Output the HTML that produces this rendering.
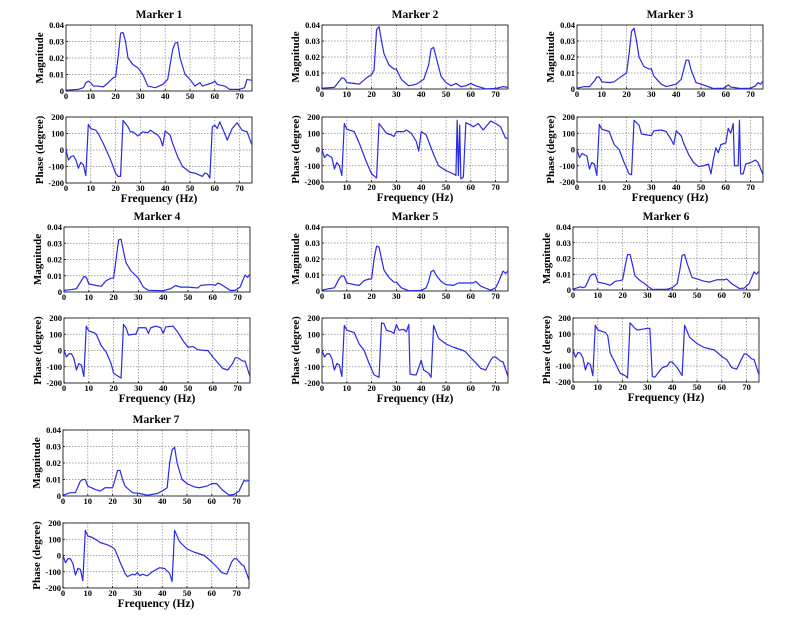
<!DOCTYPE html>
<html><head><meta charset="utf-8"><style>
html,body{margin:0;padding:0;background:#fff;}
svg{display:block;}
svg text{font-family:"Liberation Serif","Times New Roman",serif;font-weight:bold;}
</style></head><body>
<svg id="chart" width="800" height="618" viewBox="0 0 800 618" font-family="Liberation Serif, serif" font-weight="bold"></svg>
<script>
const freqTicks=[0,10,20,30,40,50,60,70];
const magTicks=[0,0.01,0.02,0.03,0.04];
const magTickLabels=["0","0.01","0.02","0.03","0.04"];
const phaseTicks=[-200,-100,0,100,200];
const phaseTickLabels=["-200","-100","0","100","200"];
const markerNames=["Marker 1","Marker 2","Marker 3","Marker 4","Marker 5","Marker 6","Marker 7"];

const mag1=[[0,0.0005],[5,0.001],[7,0.002],[8,0.005],[9,0.006],[10,0.005],[11,0.003],[13,0.003],[15,0.0025],[17,0.005],[19,0.008],[20,0.0085],[21,0.02],[22,0.035],[23,0.0355],[24,0.03],[25,0.02],[27,0.016],[29,0.014],[31,0.01],[33,0.003],[36,0.002],[39,0.004],[41,0.007],[43,0.025],[44,0.029],[45,0.0295],[46,0.02],[48,0.01],[50,0.007],[52,0.003],[54,0.005],[55,0.003],[57,0.004],[59,0.005],[60,0.006],[61,0.004],[64,0.003],[66,0.001],[70,0.001],[72,0.002],[73,0.007],[75,0.0065]];
const phase1=[[0,0],[1,-60],[2,-40],[3,-35],[4,-60],[5,-110],[6,-75],[7,-90],[8,-155],[9,155],[10,130],[12,120],[13,100],[15,40],[18,-60],[20,-140],[21,-160],[22,-160],[23,180],[25,140],[26,110],[27,110],[29,85],[31,110],[33,105],[34,120],[37,90],[38,70],[39,25],[40,115],[42,90],[43,40],[45,-40],[47,-100],[50,-135],[52,-140],[55,-160],[56,-140],[57,-145],[58,-170],[59,140],[60,150],[61,130],[62,170],[64,100],[65,60],[67,130],[69,165],[71,120],[73,110],[75,30]];
const mag2=[[0,0.0005],[5,0.001],[7,0.005],[8,0.007],[9,0.0065],[10,0.004],[13,0.0035],[15,0.003],[18,0.007],[20,0.009],[21,0.012],[22,0.037],[23,0.039],[24,0.03],[25,0.022],[27,0.015],[29,0.0125],[30,0.0125],[32,0.006],[35,0.002],[38,0.003],[41,0.006],[43,0.015],[44,0.025],[45,0.026],[46,0.02],[48,0.008],[50,0.004],[52,0.002],[54,0.0035],[56,0.0015],[58,0.002],[60,0.0035],[62,0.002],[66,0.0001],[70,0.0003],[73,0.0015],[75,0.001]];
const phase2=[[0,0],[1,-50],[2,-30],[4,-50],[5,-120],[6,-80],[7,-100],[8,-160],[9,160],[10,125],[13,110],[15,40],[18,-80],[20,-150],[22,-175],[23,160],[25,120],[26,100],[28,90],[29,80],[30,110],[33,110],[34,120],[36,100],[38,50],[39,-10],[40,110],[42,90],[43,50],[45,-30],[47,-100],[50,-130],[53,-150],[54,-160],[54.5,180],[55,-160],[55.5,150],[56,-180],[57,-170],[58,165],[60,150],[61,140],[63,160],[65,120],[68,175],[70,160],[72,140],[74,70],[75,70]];
const mag3=[[0,0.0005],[3,0.0015],[5,0.0015],[7,0.005],[8,0.0075],[9,0.0075],[10,0.0045],[13,0.004],[15,0.0045],[18,0.008],[20,0.01],[21,0.022],[22,0.036],[23,0.038],[24,0.03],[25,0.02],[27,0.014],[29,0.0125],[30,0.0125],[31,0.008],[34,0.003],[36,0.0015],[40,0.003],[42,0.006],[43,0.012],[44,0.018],[45,0.018],[46,0.012],[48,0.004],[50,0.003],[52,0.002],[55,0.0003],[59,0.0005],[61,0.0025],[62,0.0012],[66,0.0003],[70,0.0005],[72,0.002],[73,0.004],[74,0.003],[75,0.005]];
const phase3=[[0,0],[1,-50],[2,-25],[4,-40],[5,-120],[6,-80],[7,-90],[8,-160],[9,155],[10,125],[13,110],[15,30],[17,0],[19,-80],[21,-150],[22,-155],[23,180],[25,150],[26,95],[28,90],[30,85],[31,115],[34,120],[36,110],[38,60],[39,30],[40,115],[42,85],[43,40],[45,-30],[47,-80],[49,-105],[51,-100],[53,-90],[54,-150],[55,-60],[56,10],[57,-20],[58,30],[60,40],[61,130],[62,100],[63,160],[63.5,-100],[65,-100],[65.5,180],[66,-150],[67,-150],[68,-90],[70,-80],[72,-65],[73,-80],[75,-155]];
const mag4=[[0,0.001],[3,0.0015],[5,0.002],[7,0.007],[8,0.0095],[9,0.009],[10,0.005],[13,0.004],[15,0.0035],[17,0.007],[19,0.0085],[20,0.0085],[21,0.02],[22,0.032],[23,0.0325],[24,0.025],[25,0.018],[27,0.013],[29,0.01],[30,0.0085],[32,0.003],[34,0.001],[40,0.0008],[43,0.002],[45,0.004],[47,0.003],[50,0.003],[54,0.0025],[55,0.004],[58,0.0045],[60,0.0045],[61,0.004],[62,0.0055],[63,0.005],[65,0.003],[67,0.001],[69,0.001],[71,0.003],[73,0.0105],[74,0.009],[75,0.011]];
const phase4=[[0,0],[1,-40],[2,-20],[3,-20],[4,-50],[5,-120],[6,-80],[7,-90],[8,-160],[9,150],[10,120],[12,110],[13,100],[15,30],[17,-10],[19,-80],[20,-140],[22,-160],[23,-170],[24,160],[25,140],[26,95],[28,100],[29,100],[30,140],[33,140],[34,105],[35,140],[37,150],[38,145],[39,140],[40,105],[41,145],[44,150],[46,110],[48,60],[50,20],[52,25],[54,5],[57,0],[58,0],[60,-40],[62,-75],[64,-110],[66,-120],[68,-80],[69,-45],[70,-45],[72,-65],[73,-65],[75,-160]];
const mag5=[[0,0.0005],[3,0.0015],[5,0.002],[7,0.008],[8,0.0095],[9,0.009],[10,0.005],[13,0.004],[15,0.0035],[17,0.0065],[19,0.0075],[20,0.0075],[21,0.02],[22,0.028],[23,0.0275],[24,0.02],[25,0.013],[27,0.0085],[29,0.0055],[30,0.0055],[32,0.002],[35,0.0002],[40,0.0003],[42,0.002],[43,0.006],[44,0.012],[45,0.013],[46,0.01],[48,0.006],[50,0.004],[53,0.0035],[55,0.005],[58,0.005],[61,0.005],[62,0.006],[64,0.003],[68,0.0005],[70,0.002],[71,0.005],[73,0.0125],[74,0.011],[75,0.0125]];
const phase5=[[0,0],[1,-40],[2,-20],[3,-20],[4,-50],[5,-120],[6,-80],[7,-90],[8,-160],[9,155],[10,125],[13,110],[15,40],[17,0],[19,-80],[21,-150],[23,-165],[24,170],[25,165],[26,125],[28,115],[29,105],[30,160],[31,125],[33,130],[34,115],[35,160],[35.5,-145],[37,-150],[38,-150],[40,-60],[41,-120],[43,-140],[44,-165],[45,155],[47,75],[50,40],[53,20],[55,10],[57,0],[58,-10],[60,-45],[62,-75],[64,-110],[66,-120],[68,-60],[69,-40],[70,-40],[72,-65],[73,-70],[75,-160]];
const mag6=[[0,0.0005],[3,0.002],[4,0.0015],[5,0.002],[7,0.009],[8,0.01],[9,0.01],[10,0.005],[13,0.004],[15,0.003],[17,0.0055],[19,0.006],[20,0.0065],[21,0.015],[22,0.0225],[23,0.0225],[24,0.016],[25,0.009],[27,0.006],[29,0.004],[30,0.0025],[32,0.0003],[38,0.0005],[40,0.0015],[42,0.004],[43,0.012],[44,0.022],[45,0.0225],[46,0.017],[48,0.008],[50,0.007],[53,0.0055],[55,0.005],[58,0.0065],[61,0.0065],[62,0.007],[64,0.004],[67,0.001],[69,0.0012],[71,0.004],[73,0.0115],[74,0.01],[75,0.012]];
const phase6=[[0,0],[1,-45],[2,-15],[3,-20],[4,-50],[5,-125],[6,-80],[7,-90],[8,-160],[9,155],[10,125],[13,110],[14,90],[15,-20],[17,-80],[19,-145],[21,-160],[22,-175],[23,170],[25,135],[26,125],[28,130],[30,135],[31,135],[32,-165],[33,-170],[35,-130],[36,-110],[38,-100],[39,-75],[40,-75],[42,-110],[44,-160],[45,155],[47,80],[50,40],[53,15],[57,0],[60,-40],[62,-60],[64,-110],[66,-120],[68,-55],[69,-25],[70,-25],[72,-55],[73,-60],[75,-155]];
const mag7=[[0,0.0005],[3,0.002],[5,0.002],[7,0.009],[8,0.01],[9,0.01],[10,0.006],[13,0.004],[15,0.003],[17,0.005],[19,0.005],[20,0.005],[21,0.01],[22,0.0155],[23,0.0155],[24,0.01],[25,0.006],[28,0.002],[31,0.0015],[34,0.0005],[38,0.0015],[40,0.003],[42,0.005],[43,0.02],[44,0.028],[45,0.0295],[46,0.02],[48,0.01],[50,0.0075],[53,0.0055],[55,0.005],[58,0.006],[60,0.0075],[62,0.0075],[64,0.004],[67,0.0005],[69,0.001],[71,0.003],[73,0.0095],[74,0.009],[75,0.0095]];
const phase7=[[0,0],[1,-45],[2,-20],[3,-20],[4,-50],[5,-120],[6,-80],[7,-85],[8,-155],[9,155],[10,120],[12,110],[13,100],[15,80],[18,65],[20,50],[21,35],[23,-40],[25,-110],[26,-130],[28,-115],[29,-120],[30,-105],[31,-125],[32,-115],[34,-125],[36,-100],[39,-75],[41,-80],[43,-110],[44,-160],[45,155],[47,85],[50,40],[53,20],[57,0],[60,-40],[62,-70],[64,-105],[66,-115],[68,-40],[69,-20],[70,-20],[72,-55],[73,-65],[75,-150]];

const magSeries=[mag1,mag2,mag3,mag4,mag5,mag6,mag7];
const phaseSeries=[phase1,phase2,phase3,phase4,phase5,phase6,phase7];

const layout=[
 {l:66,mt:25,mb:91,pt:117,pb:183},
 {l:322,mt:25,mb:89,pt:117,pb:182},
 {l:577,mt:25,mb:89,pt:117,pb:182},
 {l:64,mt:227,mb:292,pt:318,pb:383},
 {l:322,mt:227,mb:291,pt:318,pb:383},
 {l:573,mt:227,mb:290,pt:318,pb:382},
 {l:63,mt:430,mb:496,pt:523,pb:588}
];
const W=186;
const NS="http://www.w3.org/2000/svg";
const svg=document.getElementById('chart');
function mk(tag,attrs,parent,text){
  const e=document.createElementNS(NS,tag);
  for(const k in attrs)e.setAttribute(k,attrs[k]);
  if(text!==undefined)e.textContent=text;
  parent.appendChild(e);return e;
}
function drawAxes(g,L,T,B,yMin,yMax,yTicks,yLabels,yTitle,showX,kind){
  const xs=f=>L+f/75*W;
  const ys=v=>B-(v-yMin)/(yMax-yMin)*(B-T);
  const grid=mk('g',{},g);
  
  
  freqTicks.forEach(f=>{ if(f>0) mk('line',{x1:xs(f),x2:xs(f),y1:T,y2:B,stroke:'#888','stroke-width':0.7,'stroke-dasharray':'1.5,1.5'},grid);});
  yTicks.forEach(v=>{ if(v>yMin&&v<yMax) mk('line',{x1:L,x2:L+W,y1:ys(v),y2:ys(v),stroke:'#888','stroke-width':0.7,'stroke-dasharray':'1.5,1.5'},grid);});
  const box=mk('rect',{x:L,y:T,width:W,height:B-T,fill:'none',stroke:'#000','stroke-width':0.8},g);
  
  
  yTicks.forEach((v,i)=>{
    mk('line',{x1:L,x2:L+2,y1:ys(v),y2:ys(v),stroke:'#000','stroke-width':0.7},g);
    const t=mk('text',{x:L-2,y:ys(v)+3,'text-anchor':'end','font-size':8.5},g,yLabels[i]);
    
    
  });
  freqTicks.forEach(f=>{
    mk('line',{x1:xs(f),x2:xs(f),y1:B,y2:B-2,stroke:'#000','stroke-width':0.7},g);
    const t=mk('text',{x:xs(f),y:B+8,'text-anchor':'middle','font-size':8.5},g,String(f));
    
    
  });
  const yt=mk('text',{x:0,y:0,'text-anchor':'middle','font-size':11,transform:`translate(${L-23},${(T+B)/2}) rotate(-90)`},g,yTitle);
  
  
  if(showX){
    const xt=mk('text',{x:L+W/2,y:B+19,'text-anchor':'middle','font-size':11.5},g,'Frequency (Hz)');
    
    
  }
  return {xs,ys};
}
function drawLine(g,data,xs,ys,name){
  const d=data.map((p,i)=>(i?'L':'M')+xs(p[0]).toFixed(2)+','+ys(p[1]).toFixed(2)).join(' ');
  const p=mk('path',{d:d,fill:'none',stroke:'#2a2ae6','stroke-width':1.2,'stroke-linejoin':'round'},g);
  
  
}
layout.forEach((lo,i)=>{
  const g=mk('g',{},svg);
  
  
  const title=mk('text',{x:lo.l+W/2,y:lo.mt-7,'text-anchor':'middle','font-size':11.5},g,markerNames[i]);
  
  
  const gm=mk('g',{},g);
  
  
  const a1=drawAxes(gm,lo.l,lo.mt,lo.mb,0,0.04,magTicks,magTickLabels,'Magnitude',false,'magnitude');
  drawLine(gm,magSeries[i],a1.xs,a1.ys,'magnitude-line');
  const gp=mk('g',{},g);
  
  
  const a2=drawAxes(gp,lo.l,lo.pt,lo.pb,-200,200,phaseTicks,phaseTickLabels,'Phase (degree)',true,'phase');
  drawLine(gp,phaseSeries[i],a2.xs,a2.ys,'phase-line');
});
</script>
</body></html>
